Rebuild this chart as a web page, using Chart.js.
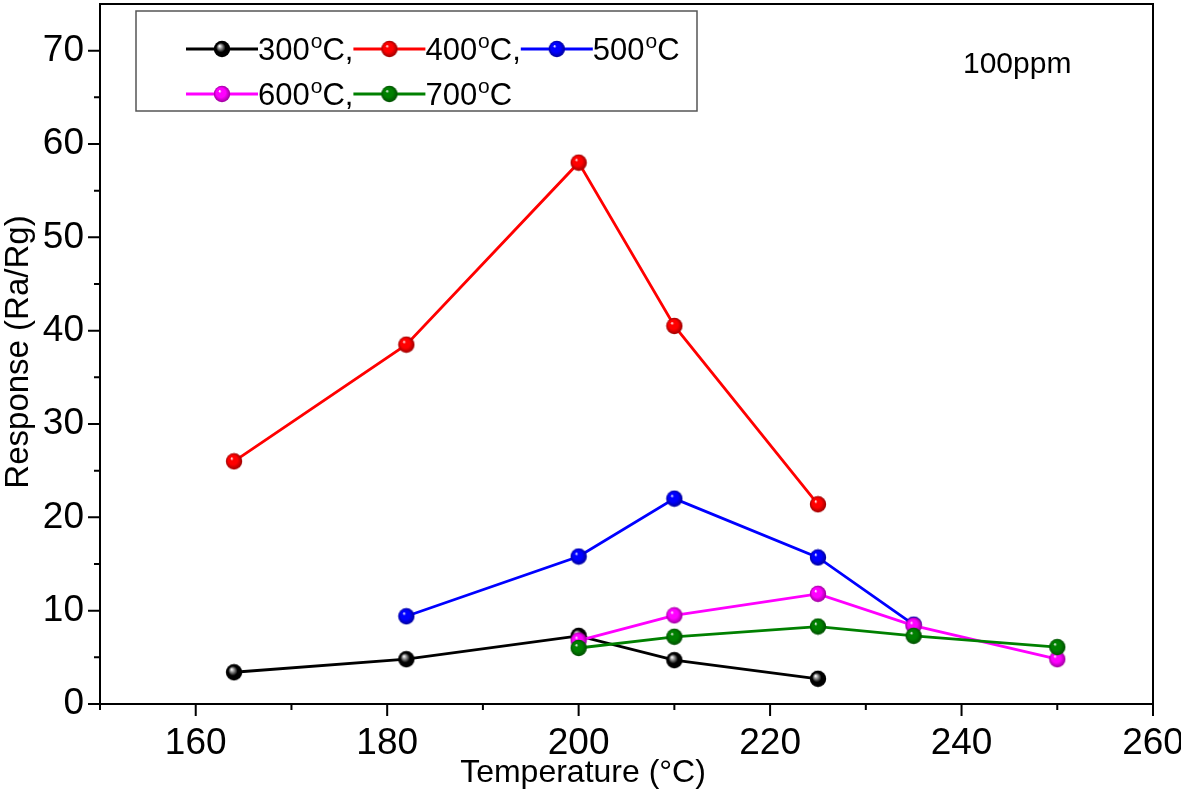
<!DOCTYPE html>
<html>
<head>
<meta charset="utf-8">
<script src="https://cdn.jsdelivr.net/npm/chart.js@4.4.0/dist/chart.umd.min.js"></script>
<style>
  html, body { margin: 0; padding: 0; background: #fff; }
  #wrap { width: 1181px; height: 789px; }
</style>
</head>
<body>
<div id="wrap"><canvas id="chart" width="1181" height="789"></canvas></div>
<script>
// Werte
const temp1 = [164, 182, 200, 210, 225];   // 300 und 400 °C
const temp2 = [182, 200, 210, 225, 235];   // 500 °C
const temp3 = [200, 210, 225, 235, 250];   // 600 und 700 °C

const resp300 = [3.4, 4.8, 7.3, 4.7, 2.7];
const resp400 = [26.0, 38.5, 58.0, 40.5, 21.4];
const resp500 = [9.4, 15.8, 22.0, 15.7, 8.5];
const resp600 = [6.8, 9.5, 11.8, 8.4, 4.8];
const resp700 = [6.0, 7.2, 8.3, 7.3, 6.1];

const serien = ['300', '400', '500', '600', '700'];
const farben = ['#000000', '#ff0000', '#0000ff', '#ff00ff', '#008000'];

const xMajor = [160, 180, 200, 220, 240, 260];
const xMinor = [150, 170, 190, 210, 230, 250];
const yMajor = [0, 10, 20, 30, 40, 50, 60, 70];
const yMinor = [5, 15, 25, 35, 45, 55, 65];

const FONT = '"Liberation Sans", Arial, sans-serif';

function shade(hex) {
  const n = parseInt(hex.slice(1), 16);
  const r = Math.round(((n >> 16) & 255) * 0.6);
  const gg = Math.round(((n >> 8) & 255) * 0.6);
  const b = Math.round((n & 255) * 0.6);
  return `rgb(${r},${gg},${b})`;
}

function kugel(farbe) {
  const c = document.createElement('canvas');
  c.width = 18; c.height = 18;
  const g = c.getContext('2d');
  const grad = g.createRadialGradient(6.5, 6, 0.3, 9, 9, 8.3);
  grad.addColorStop(0, '#ffffff');
  grad.addColorStop(0.18, farbe === '#000000' ? '#aaaaaa' : farbe);
  grad.addColorStop(0.55, farbe);
  grad.addColorStop(1, farbe === '#000000' ? '#000000' : shade(farbe));
  g.fillStyle = grad;
  g.beginPath();
  g.arc(9, 9, 8.2, 0, Math.PI * 2);
  g.fill();
  return c;
}

const kugeln = farben.map(kugel);

function punkte(xs, ys) {
  return xs.map((x, i) => ({ x: x, y: ys[i] }));
}

const daten = [
  punkte(temp1, resp300),
  punkte(temp1, resp400),
  punkte(temp2, resp500),
  punkte(temp3, resp600),
  punkte(temp3, resp700)
];

// Text mit hochgestelltem "o" für Grad
function gradText(ctx, zahl, rest, x, y) {
  ctx.font = '31px ' + FONT;
  ctx.fillText(zahl, x, y);
  x += ctx.measureText(zahl).width;
  ctx.font = '21px ' + FONT;
  ctx.fillText('o', x + 1, y - 12);
  x += ctx.measureText('o').width + 1;
  ctx.font = '31px ' + FONT;
  ctx.fillText(rest, x, y);
  return x + ctx.measureText(rest).width;
}

const rahmenPlugin = {
  id: 'rahmen',
  afterDraw(chart) {
    const ctx = chart.ctx;
    const a = chart.chartArea;
    const xs = chart.scales.x, ys = chart.scales.y;
    ctx.save();
    ctx.strokeStyle = '#000';
    ctx.lineWidth = 2;
    ctx.strokeRect(a.left, a.top, a.right - a.left, a.bottom - a.top);

    // Teilstriche
    ctx.beginPath();
    xMajor.forEach(v => { const p = xs.getPixelForValue(v); ctx.moveTo(p, a.bottom); ctx.lineTo(p, a.bottom + 12); });
    xMinor.forEach(v => { const p = xs.getPixelForValue(v); ctx.moveTo(p, a.bottom); ctx.lineTo(p, a.bottom + 6); });
    yMajor.forEach(v => { const p = ys.getPixelForValue(v); ctx.moveTo(a.left, p); ctx.lineTo(a.left - 12, p); });
    yMinor.forEach(v => { const p = ys.getPixelForValue(v); ctx.moveTo(a.left, p); ctx.lineTo(a.left - 6, p); });
    ctx.stroke();

    // Achsentitel
    ctx.fillStyle = '#000';
    ctx.font = '32px ' + FONT;
    ctx.textAlign = 'center';
    ctx.textBaseline = 'alphabetic';
    ctx.fillText('Temperature (°C)', 583, 782);
    ctx.save();
    ctx.translate(28, 352);
    ctx.rotate(-Math.PI / 2);
    ctx.font = '33px ' + FONT;
    ctx.fillText('Response (Ra/Rg)', 0, 0);
    ctx.restore();

    ctx.textAlign = 'left';
    ctx.font = '30px ' + FONT;
    ctx.fillText('100ppm', 963, 73);

    // Legende
    ctx.strokeStyle = '#555';
    ctx.lineWidth = 1.5;
    ctx.strokeRect(136, 11, 561, 100);
    const zeilen = [[0, 1, 2], [3, 4]];
    const zeilenY = [49, 94];
    zeilen.forEach((z, zi) => {
      let x = 186;
      const y = zeilenY[zi];
      z.forEach((k, j) => {
        ctx.strokeStyle = farben[k];
        ctx.lineWidth = 2.8;
        ctx.beginPath();
        ctx.moveTo(x, y);
        ctx.lineTo(x + 72, y);
        ctx.stroke();
        ctx.drawImage(kugeln[k], x + 36 - 9, y - 9);
        x += 72;
        ctx.fillStyle = '#000';
        const rest = j < z.length - 1 ? 'C,' : 'C';
        x = gradText(ctx, serien[k], rest, x, y + 11);
      });
    });
    ctx.restore();
  }
};

new Chart(document.getElementById('chart'), {
  type: 'line',
  data: {
    datasets: daten.map((d, i) => ({
      label: serien[i] + '°C',
      data: d,
      borderColor: farben[i],
      backgroundColor: farben[i],
      borderWidth: 2.8,
      pointStyle: kugeln[i],
      pointRadius: 8,
      pointHoverRadius: 8,
      fill: false,
      tension: 0,
      order: 5 - i
    }))
  },
  options: {
    responsive: false,
    animation: false,
    devicePixelRatio: 1,
    layout: { autoPadding: false, padding: { top: 4, right: 28, left: 0, bottom: 0 } },
    plugins: {
      legend: { display: false },
      tooltip: { enabled: false }
    },
    scales: {
      x: {
        type: 'linear',
        min: 150,
        max: 260,
        afterBuildTicks: s => { s.ticks = xMajor.map(v => ({ value: v })); },
        afterFit: s => { s.height = 85; s.paddingLeft = 0; s.paddingRight = 0; },
        grid: { display: false },
        border: { display: false },
        ticks: {
          color: '#000',
          font: { size: 37, family: FONT },
          padding: 10,
          maxRotation: 0
        }
      },
      y: {
        min: 0,
        max: 75,
        afterBuildTicks: s => { s.ticks = yMajor.map(v => ({ value: v })); },
        afterFit: s => { s.width = 100; s.paddingTop = 0; s.paddingBottom = 0; },
        grid: { display: false },
        border: { display: false },
        ticks: {
          color: '#000',
          font: { size: 37, family: FONT },
          padding: 8
        }
      }
    }
  },
  plugins: [rahmenPlugin]
});
</script>
</body>
</html>
